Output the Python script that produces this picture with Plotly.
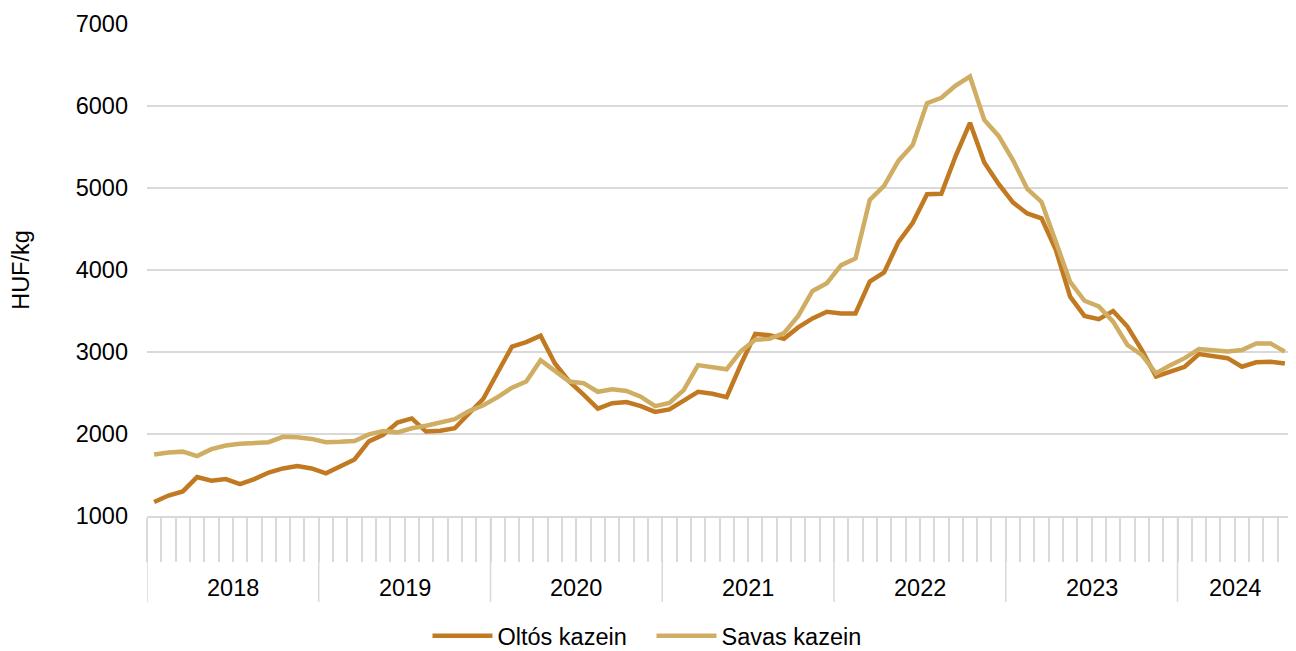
import plotly.graph_objects as go

# ---- data -------------------------------------------------------------
years = ["2018", "2019", "2020", "2021", "2022", "2023", "2024"]
months_per_year = [12, 12, 12, 12, 12, 12, 8]

oltos = [1170, 1250, 1300, 1475, 1430, 1450, 1390, 1450, 1530, 1580, 1610, 1580,
         1520, 1600, 1690, 1910, 1990, 2140, 2190, 2030, 2040, 2070, 2250, 2430,
         2750, 3065, 3120, 3200, 2860, 2640, 2480, 2310, 2375, 2390, 2340, 2270,
         2300, 2400, 2515, 2490, 2450, 2850, 3220, 3205, 3160, 3300, 3410, 3490,
         3470, 3470, 3860, 3970, 4340, 4575, 4925, 4930, 5390, 5795, 5310, 5050,
         4825, 4690, 4630, 4245, 3675, 3440, 3400, 3500, 3310, 3025, 2700, 2760,
         2820, 2975, 2955, 2925, 2820, 2875, 2880, 2860]

savas = [1750, 1775, 1785, 1730, 1815, 1860, 1880, 1885, 1900, 1965, 1960, 1940,
         1900, 1905, 1915, 1995, 2035, 2020, 2070, 2100, 2140, 2180, 2280, 2350,
         2450, 2565, 2640, 2900, 2770, 2640, 2620, 2515, 2545, 2525, 2455, 2340,
         2380, 2535, 2840, 2820, 2790, 3010, 3150, 3160, 3230, 3440, 3745, 3840,
         4060, 4140, 4855, 5025, 5330, 5525, 6035, 6100, 6250, 6360, 5830, 5635,
         5340, 4990, 4830, 4345, 3855, 3625, 3555, 3370, 3085, 2965, 2740, 2840,
         2925, 3035, 3025, 3005, 3025, 3105, 3105, 3005]

series_names = ["Oltós kazein", "Savas kazein"]
colors = ["#C17A22", "#CFAD63"]

# ---- derived positions --------------------------------------------------
n = len(oltos)
x_idx = list(range(n))
boundaries = [-0.5]
for m in months_per_year:
    boundaries.append(boundaries[-1] + m)
year_centers = [(boundaries[i] + boundaries[i + 1]) / 2 for i in range(len(years))]
month_edges = [i - 0.5 for i in range(n + 1)]

FONT = "Liberation Sans, Arial, sans-serif"
FS = 23.5
GRID = "#D9D9D9"

# page body has an 8px margin: figure is sized so that it fills the window
W, H = 1288, 643
M_L, M_R, M_T, M_B = 139, 4, 16, 135
plot_h = H - M_T - M_B

fig = go.Figure()
for name, vals, col in zip(series_names, [oltos, savas], colors):
    fig.add_trace(go.Scatter(x=x_idx, y=vals, mode="lines", name=name,
                             line=dict(color=col, width=4.5)))

shapes = []
for b in boundaries:
    shapes.append(dict(type="line", xref="x", yref="paper", x0=b, x1=b,
                       y0=0, y1=-86 / plot_h, line=dict(color=GRID, width=1.5)))
annotations = []
for yr, c in zip(years, year_centers):
    annotations.append(dict(x=c, y=-72 / plot_h, xref="x", yref="paper", text=yr,
                            showarrow=False, yanchor="middle",
                            font=dict(family=FONT, size=FS, color="#000000")))

fig.update_layout(
    width=W, height=H,
    margin=dict(l=M_L, r=M_R, t=M_T, b=M_B, autoexpand=False),
    paper_bgcolor="white", plot_bgcolor="white",
    font=dict(family=FONT, size=FS, color="#000000"),
    showlegend=True,
    legend=dict(orientation="h", xref="container", yref="container",
                x=0.4996, xanchor="center", y=0.0233, yanchor="middle",
                font=dict(family=FONT, size=FS, color="#000000"),
                itemwidth=60, entrywidth=149, tracegroupgap=0),
    shapes=shapes,
    annotations=annotations,
    xaxis=dict(range=[-0.5, n - 0.5], tickmode="array", tickvals=month_edges,
               ticks="outside", ticklen=44, tickcolor=GRID, tickwidth=1.5,
               showticklabels=False, showgrid=False, zeroline=False,
               showline=True, linecolor=GRID, linewidth=1.5, automargin=False),
    yaxis=dict(range=[1000, 7000], dtick=1000, tick0=1000, showgrid=True,
               gridcolor=GRID, gridwidth=1.5, zeroline=False, showline=False,
               ticks="", ticklabelstandoff=18, automargin=False,
               tickfont=dict(family=FONT, size=FS, color="#000000"),
               title=dict(text="HUF/kg", standoff=50,
                          font=dict(family=FONT, size=FS, color="#000000"))),
)

fig.write_html("out.html")
